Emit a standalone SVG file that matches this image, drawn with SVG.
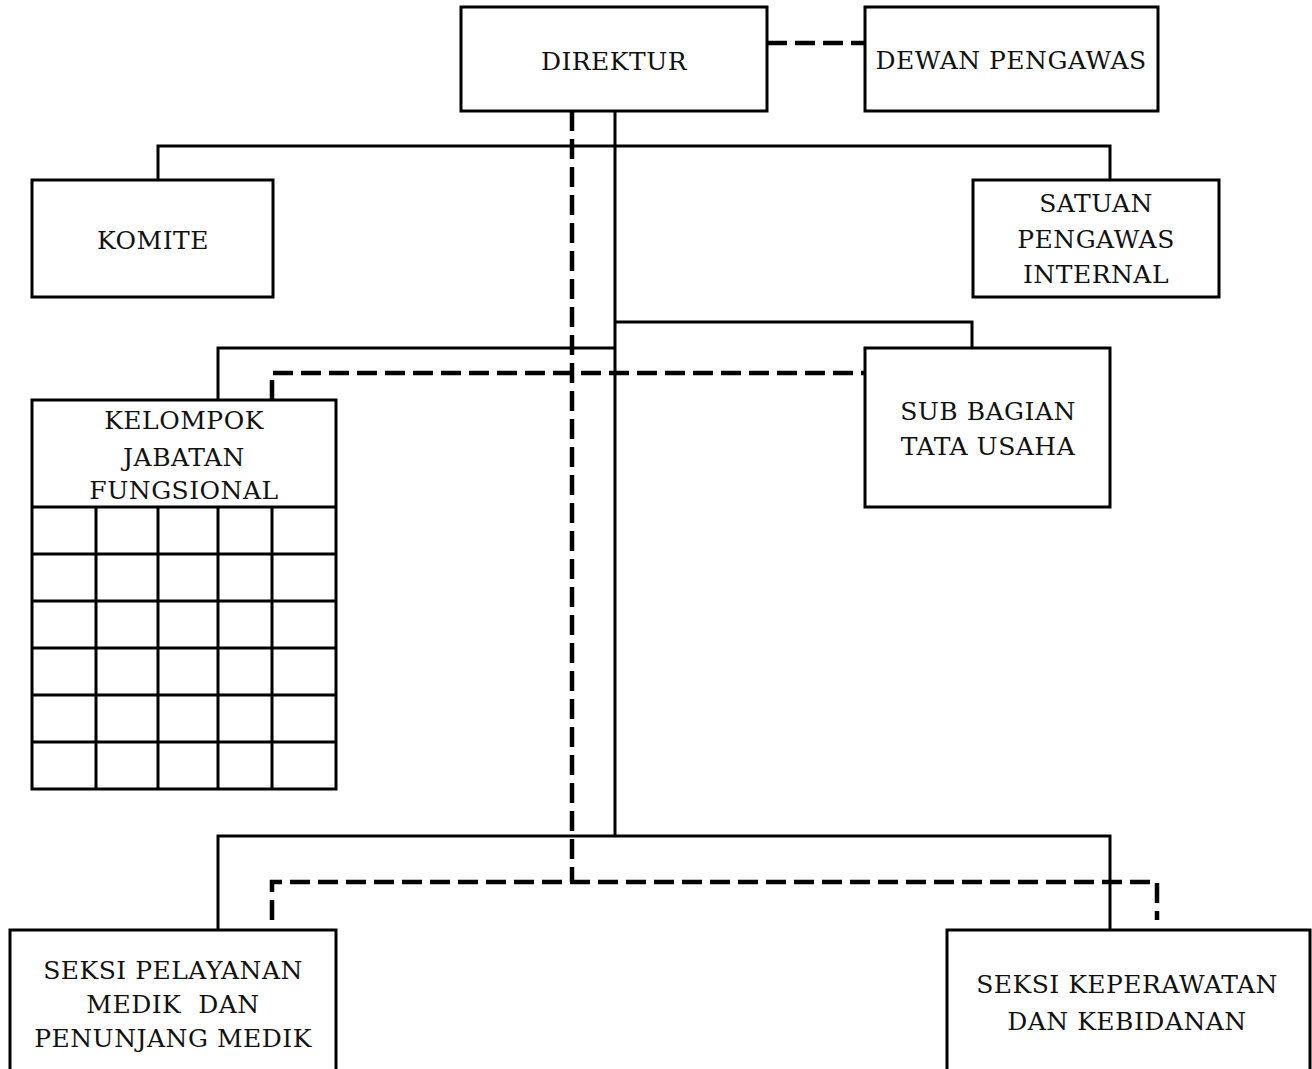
<svg xmlns="http://www.w3.org/2000/svg" width="1312" height="1069" viewBox="0 0 1312 1069">
<style>
.box{fill:#fff;stroke:#000;stroke-width:3}
.ln{fill:none;stroke:#000;stroke-width:3}
.dash{fill:none;stroke:#000;stroke-width:4.5;stroke-dasharray:20 8}
text{font-family:"DejaVu Serif","Liberation Serif",serif;font-size:25px;fill:#111;text-anchor:middle;letter-spacing:0.5px}
</style>
<rect width="1312" height="1069" fill="#fff"/>
<g id="connectors">
<path class="ln" d="M615 111V836"/>
<path class="ln" d="M158 180V146H1110V180"/>
<path class="ln" d="M615 322H972V348"/>
<path class="ln" d="M615 348H218V400"/>
<path class="ln" d="M218 930V836H1110V930"/>
<path class="dash" d="M767 43H865"/>
<path class="dash" d="M572 111V882"/>
<path class="dash" d="M272 400V373H865"/>
<path class="dash" d="M272 920V882H1157V920"/>
</g>
<g id="direktur"><rect class="box" x="461" y="7" width="306" height="104"/><text x="614" y="70">DIREKTUR</text></g>
<g id="dewan-pengawas"><rect class="box" x="865" y="7" width="293" height="104"/><text x="1011" y="69">DEWAN PENGAWAS</text></g>
<g id="komite"><rect class="box" x="32" y="180" width="241" height="117"/><text x="153" y="249">KOMITE</text></g>
<g id="satuan-pengawas-internal"><rect class="box" x="973" y="180" width="246" height="117"/><text x="1096" y="212">SATUAN</text><text x="1096" y="248">PENGAWAS</text><text x="1096" y="283">INTERNAL</text></g>
<g id="sub-bagian-tata-usaha"><rect class="box" x="865" y="348" width="245" height="159"/><text x="988" y="420">SUB BAGIAN</text><text x="988" y="455">TATA USAHA</text></g>
<g id="kelompok-jabatan-fungsional">
<rect class="box" x="32" y="400" width="304" height="389"/>
<path class="ln" d="M32 507H336M32 554H336M32 601H336M32 648H336M32 695H336M32 742H336M96 507V789M158 507V789M218 507V789M272 507V789"/>
<text x="184" y="429">KELOMPOK</text><text x="184" y="466">JABATAN</text><text x="184" y="499">FUNGSIONAL</text>
</g>
<g id="seksi-pelayanan-medik"><rect class="box" x="10" y="930" width="326" height="150"/><text x="173" y="979">SEKSI PELAYANAN</text><text x="173" y="1013" xml:space="preserve">MEDIK  DAN</text><text x="173" y="1047">PENUNJANG MEDIK</text></g>
<g id="seksi-keperawatan"><rect class="box" x="947" y="930" width="363" height="150"/><text x="1127" y="993">SEKSI KEPERAWATAN</text><text x="1127" y="1030">DAN KEBIDANAN</text></g>
</svg>
